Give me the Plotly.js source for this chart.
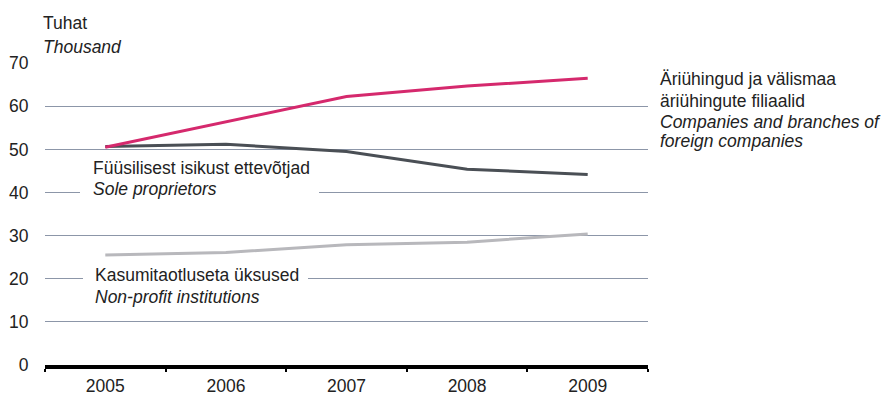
<!DOCTYPE html>
<html>
<head>
<meta charset="utf-8">
<script src="https://cdn.plot.ly/plotly-3.0.1.min.js"></script>
<style>html,body{margin:0;padding:0;background:#fff;}#chart{width:890px;height:396px;}</style>
</head>
<body>
<div id="chart"></div>
<script>
const years = ['2005', '2006', '2007', '2008', '2009'];
const companies = [50.5, 56.4, 62.3, 64.7, 66.5];
const soleProprietors = [50.7, 51.2, 49.5, 45.4, 44.2];
const nonProfit = [25.5, 26.1, 27.9, 28.5, 30.4];
const yTicks = [0, 10, 20, 30, 40, 50, 60, 70];

const FONT = '"Liberation Sans", Arial, sans-serif';
const FS = 17.5;

const W = 890, H = 396, ml = 45, mr = 242, mt = 63, mb = 31;
const plotW = W - ml - mr, plotH = H - mt - mb;
const px = x => (x - ml) / plotW;
const py = y => (H - mb - y) / plotH;

const traces = [
  {x: years, y: nonProfit, mode: 'lines', line: {color: '#b8b8bc', width: 3}, hoverinfo: 'none'},
  {x: years, y: soleProprietors, mode: 'lines', line: {color: '#4a4f55', width: 3}, hoverinfo: 'none'},
  {x: years, y: companies, mode: 'lines', line: {color: '#d5296d', width: 3}, hoverinfo: 'none'}
];

function ann(text, x, y) {
  return {text: text, x: px(x), y: py(y), xref: 'paper', yref: 'paper', xanchor: 'left', yanchor: 'middle',
    showarrow: false, font: {family: FONT, size: FS, color: '#222'}};
}

const annotations = [
  ann('Tuhat', 41, 23),
  ann('<i>Thousand</i>', 41, 47),
  ann('Füüsilisest isikust ettevõtjad', 91, 168),
  ann('<i>Sole proprietors</i>', 91, 189),
  ann('Kasumitaotluseta üksused', 93, 275),
  ann('<i>Non-profit institutions</i>', 93, 297),
  ann('Äriühingud ja välismaa', 658, 79),
  ann('äriühingute filiaalid', 658, 101),
  ann('<i>Companies and branches of</i>', 658, 122),
  ann('<i>foreign companies</i>', 658, 141)
];

// white label backgrounds that interrupt the gridlines (they do not touch any line)
const shapes = [
  {type: 'rect', xref: 'paper', yref: 'paper', x0: px(80), x1: px(319), y0: py(197), y1: py(186),
   fillcolor: '#ffffff', line: {width: 0}, layer: 'above'},
  {type: 'rect', xref: 'paper', yref: 'paper', x0: px(83), x1: px(308), y0: py(284), y1: py(273),
   fillcolor: '#ffffff', line: {width: 0}, layer: 'above'}
];

const layout = {
  width: W, height: H,
  margin: {l: ml, r: mr, t: mt, b: mb},
  paper_bgcolor: '#fff', plot_bgcolor: '#fff',
  showlegend: false,
  font: {family: FONT, size: FS, color: '#222'},
  xaxis: {
    type: 'category', tickson: 'boundaries', range: [-0.5, 4.5],
    showline: true, linecolor: '#000', linewidth: 4,
    ticks: 'outside', ticklen: 3, tickwidth: 2, tickcolor: '#000',
    ticklabelstandoff: 2,
    showgrid: false, zeroline: false, fixedrange: true,
    tickfont: {family: FONT, size: FS, color: '#222'}
  },
  yaxis: {
    range: [0, 70.05], tickvals: yTicks, showgrid: true, gridcolor: '#8c96a8', gridwidth: 1,
    zeroline: false, showline: false, ticks: 'outside', ticklen: 12, tickcolor: 'rgba(0,0,0,0)',
    tickfont: {family: FONT, size: FS, color: '#222'}, fixedrange: true
  },
  annotations: annotations,
  shapes: shapes
};

Plotly.newPlot('chart', traces, layout, {displayModeBar: false, staticPlot: true});
</script>
</body>
</html>
